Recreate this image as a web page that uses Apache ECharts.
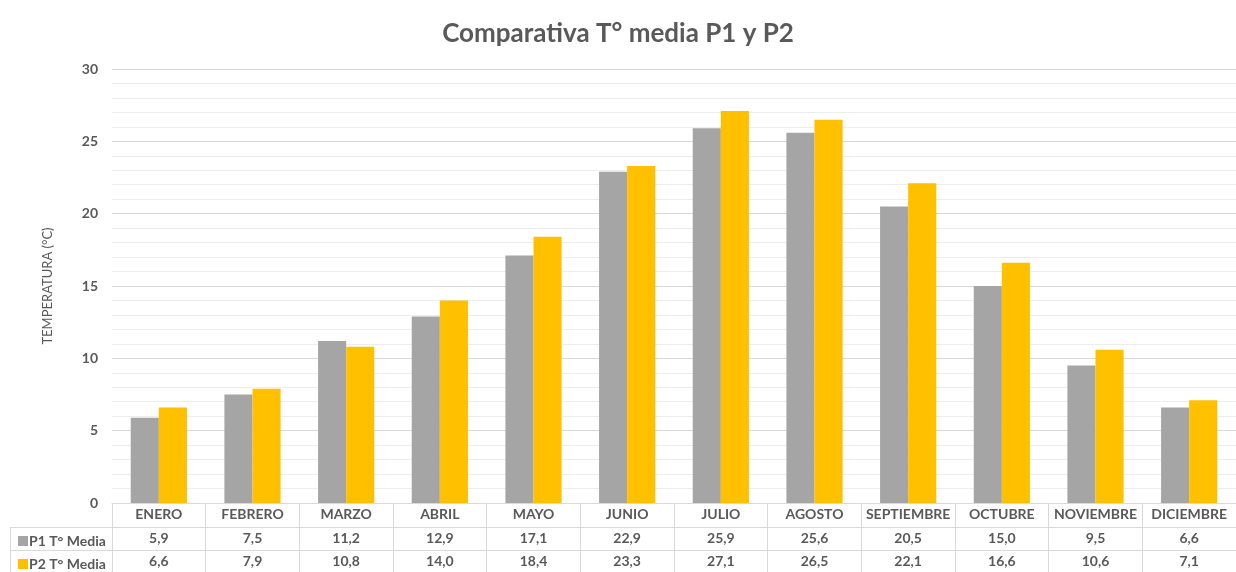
<!DOCTYPE html>
<html>
<head>
<meta charset="utf-8">
<script src="https://cdn.jsdelivr.net/npm/echarts@6/dist/echarts.min.js"></script>
<style>
  html, body { margin: 0; padding: 0; background: #fff; }
  #chart { width: 1236px; height: 572px; }
</style>
</head>
<body>
<div id="chart"></div>
<script>
// Monthly mean temperatures for two stations
const months = ['ENERO', 'FEBRERO', 'MARZO', 'ABRIL', 'MAYO', 'JUNIO', 'JULIO', 'AGOSTO', 'SEPTIEMBRE', 'OCTUBRE', 'NOVIEMBRE', 'DICIEMBRE'];
const p1Media = [5.9, 7.5, 11.2, 12.9, 17.1, 22.9, 25.9, 25.6, 20.5, 15.0, 9.5, 6.6];
const p2Media = [6.6, 7.9, 10.8, 14.0, 18.4, 23.3, 27.1, 26.5, 22.1, 16.6, 10.6, 7.1];
const seriesNames = ['P1 T° Media', 'P2 T° Media'];
const yTicks = { min: 0, max: 30, interval: 5 };

const FONT = 'Lato, "Open Sans", sans-serif';
const TEXT = '#595959';
const GRID_LINE = '#d9d9d9';

const fmt = v => v.toFixed(1).replace('.', ',');

const chart = echarts.init(document.getElementById('chart'), null, { renderer: 'canvas' });

const cellText = { fontFamily: FONT, fontWeight: 'bold', fontSize: 14, color: TEXT };

// Table rows underneath the plot are extra category axes sharing the same grid
function tableRow(values, offset) {
  return {
    type: 'category',
    gridIndex: 0,
    position: 'bottom',
    offset: offset,
    data: values.map(fmt),
    axisLine: { show: true, lineStyle: { color: GRID_LINE, width: 1 } },
    axisTick: { show: false },
    axisLabel: Object.assign({ margin: 4, interval: 0 }, cellText),
    splitLine: { show: false }
  };
}

// One legend entry per table row, used as the row header
function rowHeader(name, top) {
  return {
    orient: 'vertical',
    left: 13,
    top: top,
    itemWidth: 10,
    itemHeight: 10,
    icon: 'rect',
    data: [name],
    selectedMode: false,
    textStyle: Object.assign({ padding: [0, 0, 0, -4] }, cellText)
  };
}

chart.setOption({
  animation: false,
  backgroundColor: '#ffffff',
  title: {
    text: 'Comparativa T° media P1 y P2',
    left: 'center',
    top: 16,
    textStyle: { fontFamily: FONT, fontWeight: 'bold', fontSize: 26, color: TEXT }
  },
  legend: [rowHeader(seriesNames[0], 529), rowHeader(seriesNames[1], 552)],
  grid: { left: 112, right: 0, top: 69, bottom: 69, containLabel: false },
  xAxis: [
    {
      type: 'category',
      position: 'bottom',
      data: months,
      axisLine: { show: true, lineStyle: { color: GRID_LINE, width: 1 } },
      axisTick: { show: true, length: 69, lineStyle: { color: GRID_LINE, width: 1 } },
      axisLabel: Object.assign({ margin: 4, interval: 0 }, cellText),
      splitLine: { show: false }
    },
    tableRow(p1Media, 24),
    tableRow(p2Media, 47)
  ],
  yAxis: {
    type: 'value',
    min: yTicks.min,
    max: yTicks.max,
    interval: yTicks.interval,
    name: 'TEMPERATURA (°C)',
    nameLocation: 'middle',
    nameGap: 58,
    nameTextStyle: { fontFamily: FONT, fontSize: 13, color: TEXT },
    axisLine: { show: false },
    axisTick: { show: false },
    axisLabel: { margin: 14, fontFamily: FONT, fontWeight: 'bold', fontSize: 14, color: TEXT },
    splitLine: { show: true, lineStyle: { color: GRID_LINE, width: 1 } },
    minorTick: { show: false, splitNumber: 5 },
    minorSplitLine: { show: true, lineStyle: { color: '#ededed', width: 1 } }
  },
  series: [
    {
      name: seriesNames[0],
      type: 'bar',
      data: p1Media,
      itemStyle: { color: '#a5a5a5' },
      barGap: '0%',
      barCategoryGap: '40%'
    },
    {
      name: seriesNames[1],
      type: 'bar',
      data: p2Media,
      itemStyle: { color: '#ffc000' },
      barGap: '0%',
      barCategoryGap: '40%'
    }
  ],
  // borders of the row-label column of the data table
  graphic: [
    { type: 'line', shape: { x1: 10, y1: 527.5, x2: 112, y2: 527.5 }, style: { stroke: GRID_LINE, lineWidth: 1 } },
    { type: 'line', shape: { x1: 10, y1: 550.5, x2: 112, y2: 550.5 }, style: { stroke: GRID_LINE, lineWidth: 1 } },
    { type: 'line', shape: { x1: 10.5, y1: 527, x2: 10.5, y2: 572 }, style: { stroke: GRID_LINE, lineWidth: 1 } }
  ]
});
</script>
</body>
</html>
